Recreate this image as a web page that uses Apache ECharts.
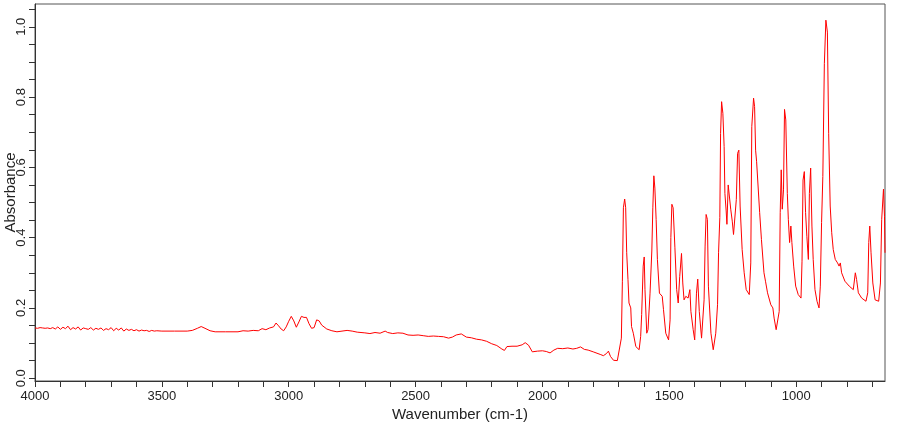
<!DOCTYPE html>
<html>
<head>
<meta charset="utf-8">
<script src="https://cdn.jsdelivr.net/npm/echarts@6/dist/echarts.min.js"></script>
<style>
html,body{margin:0;padding:0;background:#fff;}
#chart{width:910px;height:425px;}
</style>
</head>
<body>
<div id="chart"></div>
<script>
// Wavenumbers (cm-1) and absorbance, high-frequency / baseline region
const wnBase = [4000,3990,3980,3970,3960,3950,3940,3930,3920,3910,3900,3890,3880,3870,3860,3850,3840,3830,3820,3810,
  3800,3790,3780,3770,3760,3750,3740,3730,3720,3710,3700,3690,3680,3670,3660,3650,3640,3630,3620,3610,
  3600,3590,3580,3570,3560,3550,3540,3530,3520,3500,3450,3400,3380,3360,3345,3330,3310,3290,3250,3200,
  3180,3160,3140,3120,3105,3090,3075,3060,3050,3040,3030,3020,3010,3000,2990,2980,2970,2960,2950,2940,
  2930,2920,2910,2900,2890,2880,2870,2850,2830,2810,2790,2770,2750,2730,2700,2680,2660,2640,2620,2610,
  2590,2570,2550,2530,2510,2490,2470,2450,2430,2410,2390,2370,2355,2340,2320,2300,2280,2260,2240,2220,
  2200,2180,2160,2150,2140,2120,2100,2080,2068,2055,2040,2020,2000,1985,1970,1955,1940,1920,1900,1880,
  1865,1850,1835,1820,1800,1785,1770,1760,1748,1740,1732,1720,1705,1698];
const absBase = [0.143,0.142,0.144,0.143,0.142,0.143,0.141,0.144,0.140,0.146,0.139,0.145,0.141,0.148,0.138,0.144,0.140,0.146,0.137,0.143,
  0.141,0.139,0.144,0.137,0.142,0.139,0.143,0.136,0.141,0.138,0.144,0.135,0.142,0.137,0.143,0.134,0.140,0.136,0.139,0.135,
  0.138,0.134,0.137,0.135,0.136,0.133,0.136,0.134,0.135,0.134,0.134,0.134,0.136,0.142,0.147,0.142,0.135,0.132,0.132,0.132,
  0.135,0.134,0.136,0.135,0.141,0.138,0.143,0.146,0.157,0.149,0.140,0.135,0.146,0.162,0.176,0.163,0.145,0.160,0.176,0.173,
  0.173,0.155,0.142,0.144,0.166,0.163,0.151,0.140,0.135,0.132,0.134,0.136,0.134,0.131,0.129,0.127,0.130,0.128,0.134,0.130,
  0.127,0.129,0.128,0.123,0.122,0.123,0.121,0.119,0.120,0.119,0.118,0.114,0.117,0.123,0.126,0.117,0.115,0.111,0.109,0.105,
  0.098,0.093,0.083,0.079,0.090,0.091,0.091,0.095,0.101,0.094,0.075,0.077,0.078,0.076,0.072,0.080,0.085,0.084,0.086,0.083,
  0.085,0.089,0.082,0.080,0.075,0.071,0.067,0.064,0.070,0.077,0.062,0.051,0.050,0.055];

// Fingerprint region
const wnFinger = [1689,1685,1681,1676,1672,1668,1663,1659,1652,1649,1642,1632,1619,1613,1609,1603,1599,1596,1589,1584,
  1576,1569,1565,1561,1557,1552,1547,1539,1528,1523,1514,1503,1497,1494,1490,1485,1478,1471,1465,1459,
  1452,1447,1442,1435,1426,1419,1415,1406,1400,1393,1388,1382,1373,1368,1363,1359,1355,1350,1346,1336,
  1327,1317,1310,1306,1301,1298,1294,1289,1284,1281,1276,1273,1268,1263,1258,1252,1247,1242,1236,1231,
  1226,1221,1213,1205,1197,1185,1179,1175,1168,1164,1160,1156,1151,1144,1137,1127,1121,1113,1100,1092,
  1087,1079,1073,1067,1063,1059,1055,1050,1046,1041,1035,1031,1026,1021,1017,1010,1002,992,981,977,
  973,968,963,958,952,948,943,938,933,926,918,910,905,900,895,889,883,877,872,866,
  860,854,846,837,831,826,821,808,791,775,767,762,755,742,725,718,714,710,705,698,
  689,675,668,663,656,652,650];
const absFinger = [0.114,0.276,0.485,0.510,0.485,0.357,0.281,0.214,0.200,0.147,0.128,0.090,0.081,0.119,0.181,0.319,0.345,0.252,0.128,0.138,
  0.242,0.362,0.485,0.576,0.541,0.452,0.338,0.242,0.233,0.195,0.128,0.109,0.166,0.400,0.495,0.485,0.371,0.252,0.214,0.290,
  0.355,0.271,0.223,0.233,0.228,0.252,0.190,0.138,0.109,0.242,0.282,0.190,0.114,0.119,0.223,0.376,0.466,0.452,0.262,0.128,
  0.081,0.128,0.209,0.357,0.457,0.697,0.787,0.754,0.659,0.526,0.476,0.438,0.550,0.550,0.481,0.447,0.409,0.404,0.509,0.640,
  0.649,0.490,0.366,0.300,0.252,0.238,0.328,0.716,0.797,0.773,0.649,0.616,0.616,0.471,0.395,0.300,0.276,0.243,0.209,0.200,
  0.171,0.138,0.133,0.190,0.471,0.593,0.481,0.536,0.765,0.735,0.526,0.452,0.386,0.433,0.386,0.319,0.262,0.238,0.228,0.333,
  0.564,0.588,0.471,0.404,0.338,0.526,0.598,0.433,0.338,0.252,0.219,0.200,0.262,0.443,0.574,0.895,1.019,0.985,0.697,0.490,
  0.414,0.366,0.338,0.328,0.319,0.328,0.300,0.276,0.262,0.252,0.300,0.281,0.243,0.228,0.219,0.243,0.386,0.433,0.357,0.271,
  0.223,0.219,0.271,0.452,0.538,0.461,0.357];

const xTicks = [4000,3900,3800,3700,3600,3500,3400,3300,3200,3100,3000,2900,2800,2700,2600,2500,2400,2300,2200,2100,
  2000,1900,1800,1700,1600,1500,1400,1300,1200,1100,1000,900,800,700];
const xLabels = [4000,3500,3000,2500,2000,1500,1000];
const yTicks = [0,0.05,0.1,0.15,0.2,0.25,0.3,0.35,0.4,0.45,0.5,0.55,0.6,0.65,0.7,0.75,0.8,0.85,0.9,0.95,1.0,1.05];
const yLabels = [0,0.2,0.4,0.6,0.8,1.0];

const wn = wnBase.concat(wnFinger);
const ab = absBase.concat(absFinger);
const data = wn.map((w, i) => [w, ab[i]]);

const font = 'Liberation Sans, Arial, sans-serif';
const chart = echarts.init(document.getElementById('chart'), null, {renderer: 'canvas'});
chart.setOption({
  animation: false,
  backgroundColor: '#fff',
  grid: {left: 35, right: 25, top: 4, bottom: 44, containLabel: false, outerBoundsMode: 'none',
    show: true, borderColor: '#555', borderWidth: 1, backgroundColor: 'transparent'},
  xAxis: {
    type: 'value', inverse: true, min: 650, max: 4000,
    name: 'Wavenumber (cm-1)', nameLocation: 'middle', nameGap: 26, nameMoveOverlap: false,
    nameTextStyle: {fontFamily: font, fontSize: 15, color: '#222'},
    axisLine: {show: true, onZero: false, lineStyle: {color: '#333', width: 1}},
    axisTick: {show: true, inside: false, length: 6, customValues: xTicks, lineStyle: {color: '#333'}},
    axisLabel: {customValues: xLabels, margin: 9, fontFamily: font, fontSize: 13, color: '#222',
      formatter: v => String(v)},
    splitLine: {show: false}
  },
  yAxis: {
    type: 'value', min: -0.008, max: 1.065,
    name: 'Absorbance', nameLocation: 'middle', nameRotate: 90, nameGap: 17, nameMoveOverlap: false,
    nameTextStyle: {fontFamily: font, fontSize: 15, color: '#222'},
    axisLine: {show: true, onZero: false, lineStyle: {color: '#333', width: 1}},
    axisTick: {show: true, inside: false, length: 6, customValues: yTicks, lineStyle: {color: '#333'}},
    axisLabel: {customValues: yLabels, rotate: 90, margin: 7, fontFamily: font, fontSize: 13, color: '#222',
      formatter: v => v.toFixed(1)},
    splitLine: {show: false}
  },
  series: [{
    type: 'line', data: data, showSymbol: false, symbol: 'none',
    lineStyle: {color: '#ff0000', width: 1}, silent: true
  }]
});
</script>
</body>
</html>
